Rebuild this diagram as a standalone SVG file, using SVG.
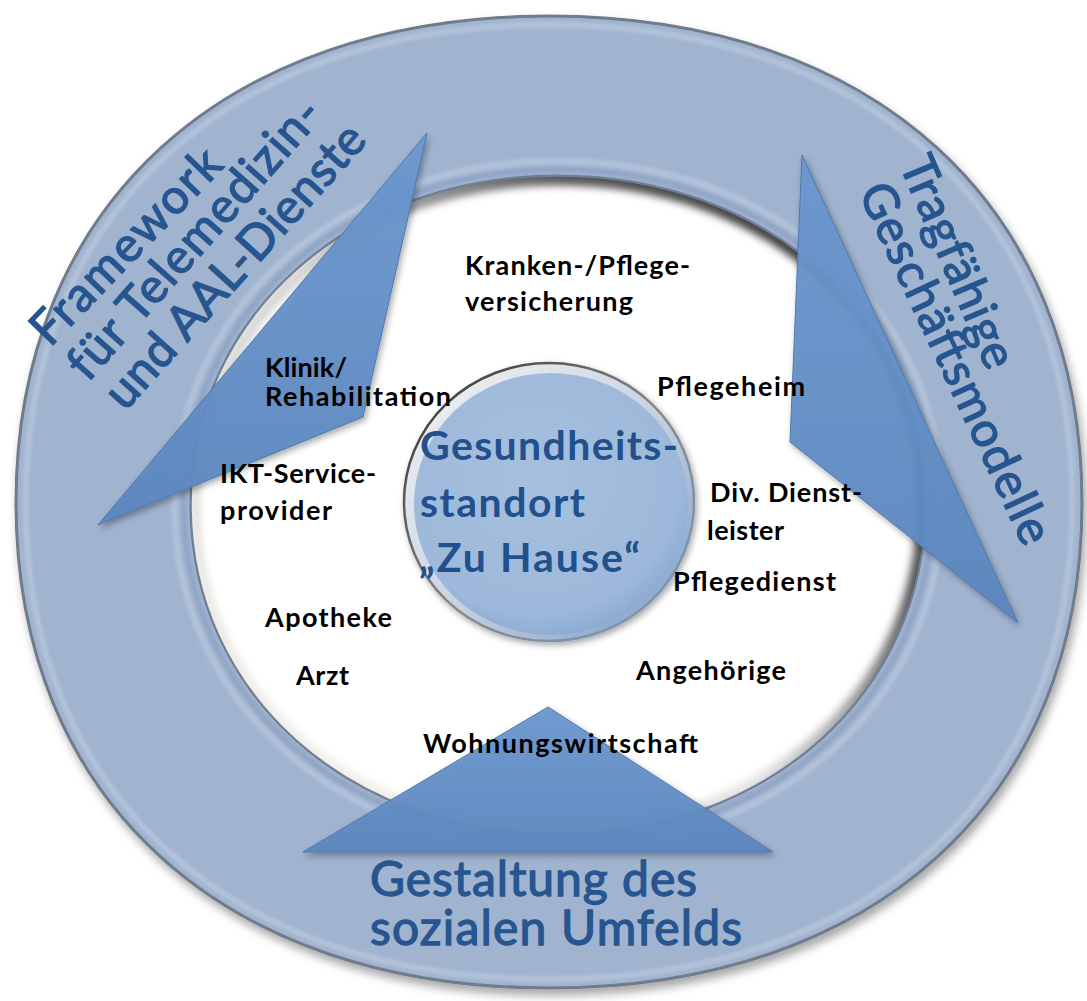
<svg xmlns="http://www.w3.org/2000/svg" width="1087" height="1001" viewBox="0 0 1087 1001">
<defs>
<style>
.lbl{font-family:Lato,"Open Sans","Liberation Sans",sans-serif;font-weight:700;font-size:27px;fill:#000}
.rt{font-family:Lato,"Open Sans","Liberation Sans",sans-serif;font-weight:400;font-size:48px;fill:#26558f;stroke:#26558f;stroke-width:1.3}
.ct{font-family:Lato,"Open Sans","Liberation Sans",sans-serif;font-weight:700;font-size:41px;fill:#21508d}
.arrow{fill:url(#arrG);fill-opacity:0.95;stroke:#4f78ad;stroke-width:1;filter:url(#sh2)}
</style>
<path id="outerP" d="M16,503 C16,206 224,16 549,16 C874,16 1082,206 1082,503 C1082,800 874,988 549,988 C224,988 16,800 16,503 Z"/>
<path id="innerP" d="M191,505 C191,317 349,176 558,176 C767,176 925,317 925,505 C925,693 767,834 558,834 C349,834 191,693 191,505 Z"/>
<clipPath id="holeClip"><use href="#innerP"/></clipPath>
<clipPath id="ringClip"><path clip-rule="evenodd" d="M16,503 C16,206 224,16 549,16 C874,16 1082,206 1082,503 C1082,800 874,988 549,988 C224,988 16,800 16,503 Z M191,505 C191,317 349,176 558,176 C767,176 925,317 925,505 C925,693 767,834 558,834 C349,834 191,693 191,505 Z"/></clipPath>
<filter id="sh1" x="-10%" y="-10%" width="120%" height="120%">
<feGaussianBlur in="SourceAlpha" stdDeviation="5"/>
<feOffset dx="3" dy="6" result="b"/>
<feFlood flood-color="#000" flood-opacity="0.35"/>
<feComposite in2="b" operator="in"/>
<feMerge><feMergeNode/><feMergeNode in="SourceGraphic"/></feMerge>
</filter>
<filter id="sh2" x="-20%" y="-20%" width="140%" height="140%">
<feGaussianBlur in="SourceAlpha" stdDeviation="3"/>
<feOffset dx="2" dy="3" result="b"/>
<feFlood flood-color="#000" flood-opacity="0.35"/>
<feComposite in2="b" operator="in"/>
<feMerge><feMergeNode/><feMergeNode in="SourceGraphic"/></feMerge>
</filter>
<filter id="blur4"><feGaussianBlur stdDeviation="4"/></filter>
<filter id="blur2"><feGaussianBlur stdDeviation="2"/></filter>
<linearGradient id="arrG" x1="0" y1="0" x2="0" y2="1">
<stop offset="0" stop-color="#6c98cf"/>
<stop offset="1" stop-color="#5c87bf"/>
</linearGradient>
<linearGradient id="holeG" gradientUnits="userSpaceOnUse" x1="250" y1="780" x2="880" y2="220">
<stop offset="0" stop-color="#f6f3ea"/>
<stop offset="0.45" stop-color="#e0e0e0"/>
<stop offset="0.75" stop-color="#555"/>
<stop offset="1" stop-color="#333"/>
</linearGradient>
<linearGradient id="rimG" gradientUnits="userSpaceOnUse" x1="420" y1="370" x2="680" y2="640">
<stop offset="0" stop-color="#f2f2f2"/>
<stop offset="0.5" stop-color="#c9d4e3"/>
<stop offset="1" stop-color="#7c9cc6"/>
</linearGradient>
<linearGradient id="rimS" gradientUnits="userSpaceOnUse" x1="420" y1="370" x2="680" y2="640">
<stop offset="0" stop-color="#333"/>
<stop offset="0.5" stop-color="#888"/>
<stop offset="1" stop-color="#7b98c0"/>
</linearGradient>
<radialGradient id="discG" cx="0.45" cy="0.4" r="0.65">
<stop offset="0" stop-color="#a7c0de"/>
<stop offset="0.8" stop-color="#9db8da"/>
<stop offset="1" stop-color="#86a6cf"/>
</radialGradient>
</defs>
<rect width="1087" height="1001" fill="#fff"/>

<g id="ring">
<path filter="url(#sh1)" fill="#a0b3cf" fill-rule="evenodd" stroke="#707b8c" stroke-width="3" d="M16,503 C16,206 224,16 549,16 C874,16 1082,206 1082,503 C1082,800 874,988 549,988 C224,988 16,800 16,503 Z M191,505 C191,317 349,176 558,176 C767,176 925,317 925,505 C925,693 767,834 558,834 C349,834 191,693 191,505 Z"/>
<g clip-path="url(#ringClip)">
<use href="#outerP" fill="none" stroke="#bccbde" stroke-width="4" filter="url(#blur2)" transform="translate(549 503) scale(0.982) translate(-549 -503)"/>
<use href="#innerP" fill="none" stroke="#8aa0c0" stroke-width="4" filter="url(#blur2)" transform="translate(558 505) scale(1.02) translate(-558 -505)"/>
<use href="#innerP" fill="none" stroke="#b7c6dc" stroke-width="5" filter="url(#blur2)" transform="translate(558 505) scale(1.045) translate(-558 -505)"/>
</g>
<g clip-path="url(#holeClip)">
<use href="#innerP" fill="none" stroke="url(#holeG)" stroke-width="16" filter="url(#blur4)"/>
</g>
<use href="#innerP" fill="none" stroke="#6f7f97" stroke-width="1.5"/>
</g>

<g id="center">
<ellipse cx="549" cy="502" rx="145" ry="139" fill="url(#rimG)" stroke="url(#rimS)" stroke-width="2.5" filter="url(#sh2)"/>
<ellipse cx="551" cy="504" rx="137" ry="131" fill="url(#discG)"/>
<text class="ct" x="420" y="460" textLength="258">Gesundheits-</text>
<text class="ct" x="420" y="517" textLength="165">standort</text>
<text class="ct" x="419" y="572" textLength="221">„Zu Hause“</text>
</g>

<g id="connectors">
<polygon id="arrow-left" class="arrow" points="427,133 363,417 98,525"/>
<polygon id="arrow-right" class="arrow" points="802,155 1018,623 790,442"/>
<polygon id="arrow-bottom" class="arrow" points="548,707 773,852 303,852"/>
</g>

<g id="ring-labels">
<text class="rt" transform="translate(50 348) rotate(-46)" textLength="252">Framework</text>
<text class="rt" transform="translate(88 383) rotate(-48.5)" textLength="357">für Telemedizin-</text>
<text class="rt" transform="translate(125 412) rotate(-48)" textLength="364">und AAL-Dienste</text>
<text class="rt" transform="translate(899 164) rotate(67)" textLength="226">Tragfähige</text>
<text class="rt" transform="translate(858 192) rotate(65)" textLength="393">Geschäftsmodelle</text>
<text class="rt" x="370" y="896" textLength="327">Gestaltung des</text>
<text class="rt" x="370" y="945" textLength="372">sozialen Umfelds</text>
</g>

<g id="n-krankenversicherung"><text class="lbl" x="465" y="275" textLength="225">Kranken-/Pflege-</text><text class="lbl" x="465" y="311" textLength="168">versicherung</text></g>
<g id="n-klinik"><text class="lbl" x="265" y="377" textLength="82">Klinik/</text><text class="lbl" x="265" y="406" textLength="186">Rehabilitation</text></g>
<g id="n-ikt"><text class="lbl" x="220" y="483" textLength="156">IKT-Service-</text><text class="lbl" x="220" y="520" textLength="112">provider</text></g>
<g id="n-pflegeheim"><text class="lbl" x="657" y="396" textLength="148">Pflegeheim</text></g>
<g id="n-dienstleister"><text class="lbl" x="710" y="502" textLength="152">Div. Dienst-</text><text class="lbl" x="707" y="540" textLength="77">leister</text></g>
<g id="n-pflegedienst"><text class="lbl" x="673" y="591" textLength="163">Pflegedienst</text></g>
<g id="n-apotheke"><text class="lbl" x="265" y="627" textLength="127">Apotheke</text></g>
<g id="n-arzt"><text class="lbl" x="296" y="685" textLength="53">Arzt</text></g>
<g id="n-angehoerige"><text class="lbl" x="636" y="680" textLength="150">Angehörige</text></g>
<g id="n-wohnungswirtschaft"><text class="lbl" x="423" y="753" textLength="275">Wohnungswirtschaft</text></g>
</svg>
